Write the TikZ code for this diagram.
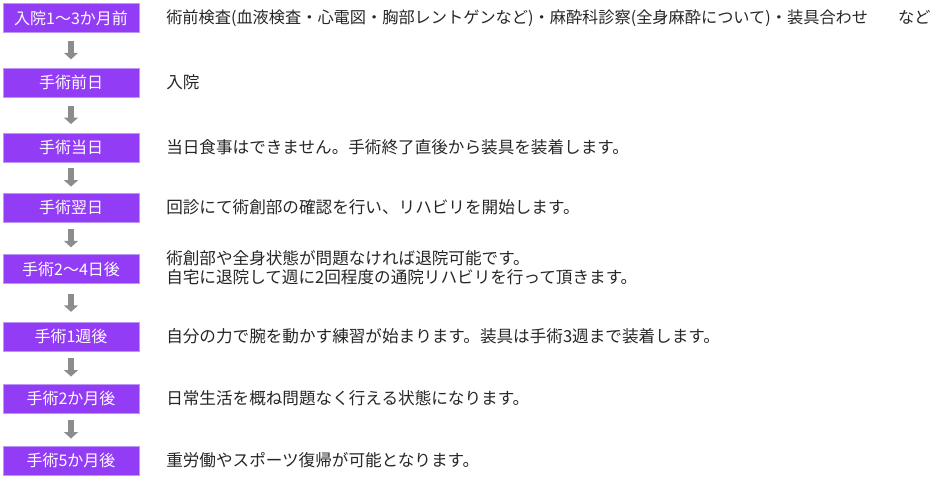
\documentclass[tikz,border=0pt]{standalone}
\usepackage{fontspec}
\setmainfont{Noto Sans CJK JP}
\usetikzlibrary{arrows.meta}
\definecolor{stagefill}{RGB}{146,60,246}
\definecolor{stageline}{RGB}{190,150,248}
\definecolor{downgray}{RGB}{140,140,140}
\definecolor{notetext}{RGB}{38,38,38}

\begin{document}
\begin{tikzpicture}[x=0.75pt, y=-0.75pt,
  stage/.style={draw=stageline, line width=0.6pt, fill=stagefill, text=white,
    minimum width=102pt, minimum height=21.75pt, inner sep=0pt,
    font=\fontsize{12pt}{14pt}\selectfont},
  note/.style={anchor=west, inner sep=0pt, text=notetext, align=left,
    font=\fontsize{12.45pt}{14.25pt}\selectfont},
  down/.style={draw=downgray, line width=4.9pt,
    -{Triangle[width=10.5pt, length=4.9pt]}}]
  \useasboundingbox (0,0) rectangle (938,479);
  \node [stage] (s1) at (71,18)    {入院1〜3か月前};
  \node [stage] (s2) at (71,82.5)  {手術前日};
  \node [stage] (s3) at (71,147.5) {手術当日};
  \node [stage] (s4) at (71,207.5) {手術翌日};
  \node [stage] (s5) at (71,269)   {手術2〜4日後};
  \node [stage] (s6) at (71,336.5) {手術1週後};
  \node [stage] (s7) at (71,398.5) {手術2か月後};
  \node [stage] (s8) at (71,460.5) {手術5か月後};
  \node [note, font=\fontsize{12.15pt}{14.25pt}\selectfont] (n1) at (166,18)
    {術前検査(血液検査・心電図・胸部レントゲンなど)・麻酔科診察(全身麻酔について)・装具合わせ\hspace{1.85em}など};
  \node [note] (n2) at (166,82.5)  {入院};
  \node [note] (n3) at (166,147.5) {当日食事はできません。手術終了直後から装具を装着します。};
  \node [note] (n4) at (166,207.5) {回診にて術創部の確認を行い、リハビリを開始します。};
  \node [note] (n5) at (166,267.5) {術創部や全身状態が問題なければ退院可能です。\\自宅に退院して週に2回程度の通院リハビリを行って頂きます。};
  \node [note] (n6) at (166,336.5) {自分の力で腕を動かす練習が始まります。装具は手術3週まで装着します。};
  \node [note] (n7) at (166,398.5) {日常生活を概ね問題なく行える状態になります。};
  \node [note] (n8) at (166,460.5) {重労働やスポーツ復帰が可能となります。};
  % grey arrows between the stages
  \foreach \a/\b/\g in {s1/s2/6.2, s2/s3/6.4, s3/s4/4.5, s4/s5/5.1,
                        s5/s6/7.3, s6/s7/5.3, s7/s8/5.3}
    \draw [down, shorten <=\g pt, shorten >=\g pt] (\a) -- (\b);
\end{tikzpicture}
\end{document}
